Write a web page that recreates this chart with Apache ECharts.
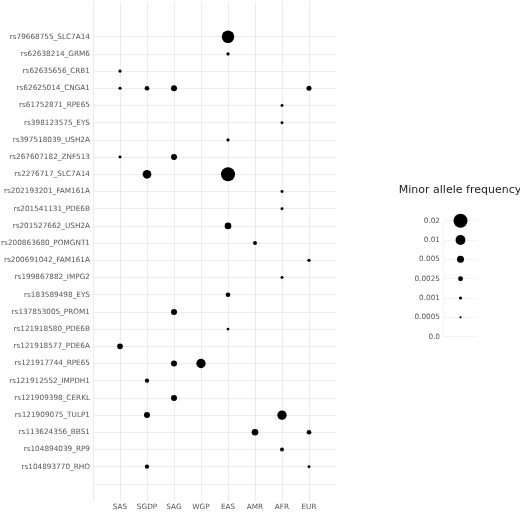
<!DOCTYPE html>
<html><head><meta charset="utf-8">
<script src="https://cdn.jsdelivr.net/npm/echarts@6/dist/echarts.min.js"></script>
<style>html,body{margin:0;padding:0;background:#fff}#c{width:520px;height:512px}</style>
</head><body><div id="c"></div>
<script>
const n = null;
const snps = ['rs79668755_SLC7A14','rs62638214_GRM6','rs62635656_CRB1','rs62625014_CNGA1','rs61752871_RPE65','rs398123575_EYS','rs397518039_USH2A','rs267607182_ZNF513','rs2276717_SLC7A14','rs202193201_FAM161A','rs201541131_PDE6B','rs201527662_USH2A','rs200863680_POMGNT1','rs200691042_FAM161A','rs199867882_IMPG2','rs183589498_EYS','rs137853005_PROM1','rs121918580_PDE6B','rs121918577_PDE6A','rs121917744_RPE65','rs121912552_IMPDH1','rs121909398_CERKL','rs121909075_TULP1','rs113624356_BBS1','rs104894039_RP9','rs104893770_RHO'];
const populations = ['SAS','SGDP','SAG','WGP','EAS','AMR','AFR','EUR'];
// minor allele frequency per SNP (top-to-bottom order), one array per population
const SAS  = [n,n,0.0011,0.001,n,n,n,0.0009,n,n, n,n,n,n,n,n,n,n,0.0033,n, n,n,n,n,n,n];
const SGDP = [n,n,n,0.0022,n,n,n,n,0.0077,n, n,n,n,n,n,n,n,n,n,n, 0.0019,n,0.0037,n,n,0.0019];
const SAG  = [n,n,n,0.0037,n,n,n,0.0037,n,n, n,n,n,n,n,n,0.0037,n,n,0.0037, n,0.0037,n,n,n,n];
const WGP  = [n,n,n,n,n,n,n,n,n,n, n,n,n,n,n,n,n,n,n,0.0089, n,n,n,n,n,n];
const EAS  = [0.016,0.0011,n,n,n,n,0.001,n,0.02,n, n,0.0045,n,n,n,0.0022,n,0.0008,n,n, n,n,n,n,n,n];
const AMR  = [n,n,n,n,n,n,n,n,n,n, n,n,0.0016,n,n,n,n,n,n,n, n,n,n,0.0045,n,n];
const AFR  = [n,n,n,n,0.0009,0.0009,n,n,n,0.0009, 0.0009,n,n,n,0.0009,n,n,n,n,n, n,n,0.0089,n,0.0016,n];
const EUR  = [n,n,n,0.0026,n,n,n,n,n,n, n,n,n,0.0011,n,n,n,n,n,n, n,n,n,0.0022,n,0.0009];
const legendValues = [0.0, 0.0005, 0.001, 0.0025, 0.005, 0.01, 0.02];
const legendLabels = ['0.0','0.0005','0.001','0.0025','0.005','0.01','0.02'];

const popData = [SAS, SGDP, SAG, WGP, EAS, AMR, AFR, EUR];
const N = snps.length;
const points = [];
popData.forEach((arr, xi) => {
  arr.forEach((v, i) => { if (v !== null) points.push([xi, N - 1 - i, v]); });
});
const legendPoints = legendValues.map((v, j) => [1, j, v]);
const sizeOf = v => 99 * Math.sqrt(v[2]);

const G = '#ececec', T = 'rgba(0,0,0,0)';
const xColors = []; for (let k = 0; k < 10; k++) xColors.push(k === 9 ? T : G);
const yColors = []; for (let k = 0; k < 30; k++) yColors.push((k === 0 || k >= 28) ? T : G);

const lab = { fontFamily: 'DejaVu Sans', fontSize: 7.3, color: '#555' };
const chart = echarts.init(document.getElementById('c'));
chart.setOption({
  animation: false,
  title: { text: 'Minor allele frequency', left: 455, top: 180, textAlign: 'center',
    textStyle: { fontFamily: 'DejaVu Sans', fontSize: 11, fontWeight: 'normal', color: '#222' } },
  grid: [
    { left: 93, width: 243, top: 36.7 - 2 * 17.2, height: 29 * 17.2, containLabel: false, outerBoundsMode: 'none' },
    { left: 443, width: 35, top: 220.7, height: 116, containLabel: false, outerBoundsMode: 'none' }
  ],
  xAxis: [
    { type: 'value', gridIndex: 0, min: -1, max: 8, interval: 1,
      axisLine: { show: false }, axisTick: { show: false },
      splitLine: { show: true, lineStyle: { color: xColors, width: 1 } },
      axisLabel: Object.assign({ margin: 3, formatter: v => populations[v] || '' }, lab) },
    { type: 'value', gridIndex: 1, min: 0, max: 2, interval: 1,
      axisLine: { show: false }, axisTick: { show: false }, axisLabel: { show: false },
      splitLine: { show: true, lineStyle: { color: ['#f4f4f4', T, T] } } }
  ],
  yAxis: [
    { type: 'value', gridIndex: 0, min: -2, max: 27, interval: 1,
      axisLine: { show: false }, axisTick: { show: false },
      splitLine: { show: true, lineStyle: { color: yColors, width: 1 } },
      axisLabel: Object.assign({ margin: 3, formatter: v => (v >= 0 && v < N) ? snps[N - 1 - v] : '' }, lab) },
    { type: 'value', gridIndex: 1, min: 0, max: 6, interval: 1,
      axisLine: { show: false }, axisTick: { show: false },
      splitLine: { show: true, lineStyle: { color: '#f4f4f4' } },
      axisLabel: Object.assign({ margin: 3, formatter: v => legendLabels[v] || '' }, lab) }
  ],
  series: [
    { type: 'scatter', xAxisIndex: 0, yAxisIndex: 0, data: points, symbolSize: sizeOf,
      itemStyle: { color: '#000', opacity: 1 } },
    { type: 'scatter', xAxisIndex: 1, yAxisIndex: 1, data: legendPoints, symbolSize: sizeOf,
      itemStyle: { color: '#000', opacity: 1 } }
  ]
});
</script></body></html>
